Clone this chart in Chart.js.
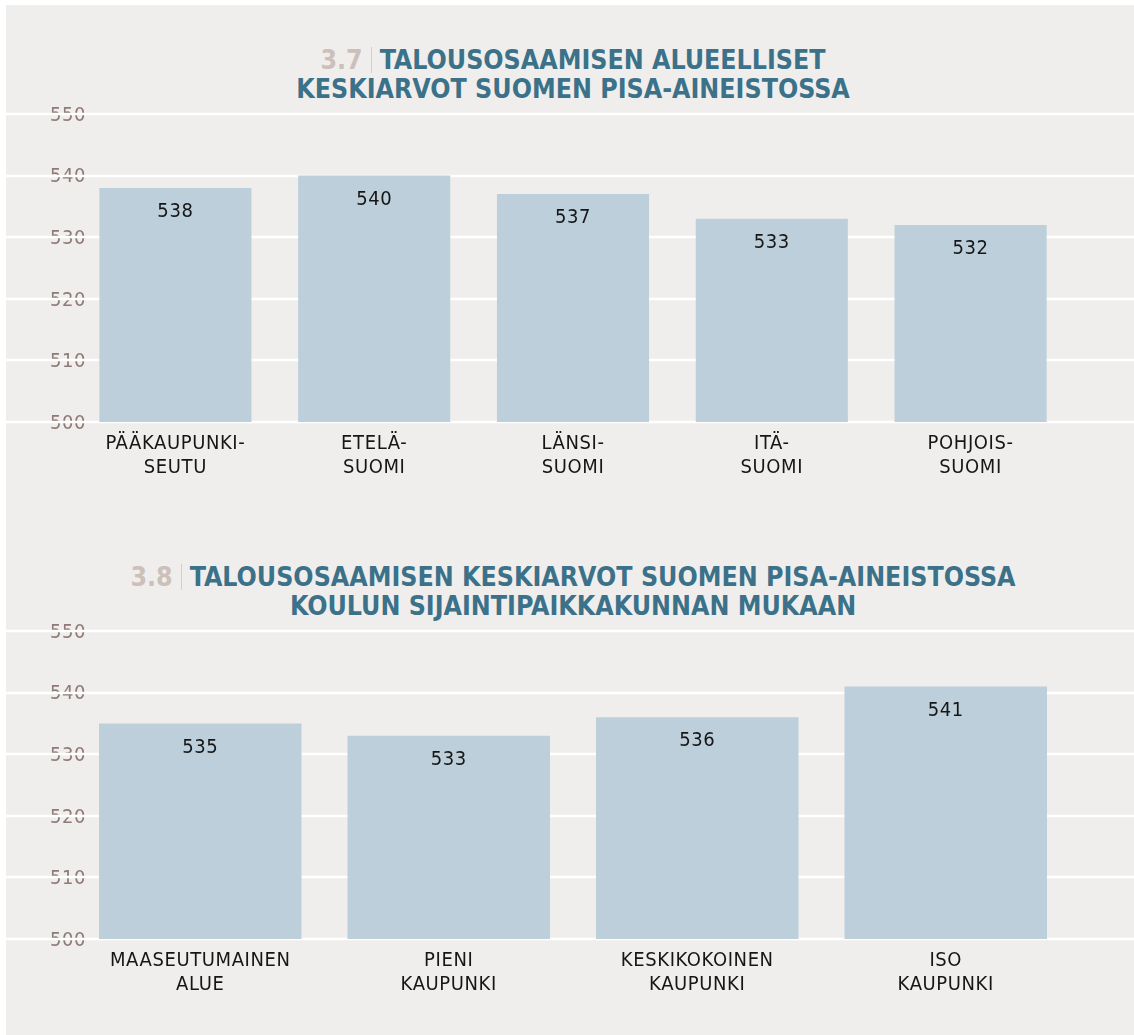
<!DOCTYPE html>
<html>
<head>
<meta charset="utf-8">
<script src="https://cdn.jsdelivr.net/npm/chart.js@4"></script>
<style>
  body { margin: 0; background: #fff; }
  #panel { position: absolute; left: 6px; top: 5px; width: 1128px; height: 1030px; background: #f0eeec; }
  canvas { position: absolute; left: 0; }
  #c1 { top: 0; }
  #c2 { top: 517px; }
  .title { position: absolute; left: 76px; width: 994px; text-align: center; font-family: "Liberation Sans Narrow", "DejaVu Sans Condensed", sans-serif; font-weight: bold; font-size: 26.5px; line-height: 29px; color: #3b7189; }
  .title .num { color: #cdbfb9; }
  .title .sep { display: inline-block; width: 1px; height: 26px; background: #d8ccc8; margin: 0 8px 0 8px; vertical-align: -4px; }
</style>
</head>
<body>
<div id="panel"></div>
<div class="title" style="top: 45px;"><span class="num">3.7</span><span class="sep"></span>TALOUSOSAAMISEN ALUEELLISET<br>KESKIARVOT SUOMEN PISA-AINEISTOSSA</div>
<div class="title" style="top: 562px;"><span class="num">3.8</span><span class="sep"></span>TALOUSOSAAMISEN KESKIARVOT SUOMEN PISA-AINEISTOSSA<br>KOULUN SIJAINTIPAIKKAKUNNAN MUKAAN</div>
<canvas id="c1" width="1134" height="502"></canvas>
<canvas id="c2" width="1134" height="502"></canvas>
<script>
// 3.7 alueittain
const regions = [['PÄÄKAUPUNKI-', 'SEUTU'], ['ETELÄ-', 'SUOMI'], ['LÄNSI-', 'SUOMI'], ['ITÄ-', 'SUOMI'], ['POHJOIS-', 'SUOMI']];
const regionMeans = [538, 540, 537, 533, 532];

// 3.8 koulun sijaintipaikkakunta
const places = [['MAASEUTUMAINEN', 'ALUE'], ['PIENI', 'KAUPUNKI'], ['KESKIKOKOINEN', 'KAUPUNKI'], ['ISO', 'KAUPUNKI']];
const placeMeans = [535, 533, 536, 541];

const yTicks = [500, 510, 520, 530, 540, 550];

const narrow = '"Liberation Sans Narrow", "DejaVu Sans Condensed", sans-serif';

// white grid lines across the whole panel, not only the chart area
const panelGrid = {
  id: 'panelGrid',
  beforeDraw: (chart) => {
    chart.ctx.letterSpacing = '0.6px';
  },
  beforeDatasetsDraw: (chart) => {
    const ctx = chart.ctx;
    const y = chart.scales.y;
    ctx.save();
    ctx.strokeStyle = '#ffffff';
    ctx.lineWidth = 2.5;
    yTicks.forEach((v) => {
      const py = Math.round(y.getPixelForValue(v));
      ctx.beginPath();
      ctx.moveTo(6, py);
      ctx.lineTo(chart.width, py);
      ctx.stroke();
    });
    ctx.restore();
  },
  afterDatasetsDraw: (chart) => {
    const ctx = chart.ctx;
    const ds = chart.data.datasets[0];
    ctx.save();
    ctx.fillStyle = '#161616';
    ctx.font = '500 20px ' + narrow;
    ctx.textAlign = 'center';
    ctx.textBaseline = 'middle';
    chart.getDatasetMeta(0).data.forEach((bar, i) => {
      ctx.fillText(ds.data[i], bar.x, bar.y + 24);
    });
    ctx.restore();
  }
};

const makeChart = (id, labels, values, barPct) => new Chart(document.getElementById(id), {
  type: 'bar',
  data: {
    labels: labels,
    datasets: [{
      data: values,
      backgroundColor: '#bccfdb',
      categoryPercentage: 1,
      barPercentage: barPct,
    }]
  },
  options: {
    responsive: false,
    animation: false,
    layout: { padding: { top: 114, right: 64, left: 0, bottom: 0 } },
    plugins: {
      legend: { display: false },
      tooltip: { enabled: false }
    },
    scales: {
      x: {
        grid: { display: false, drawTicks: false },
        border: { display: false },
        ticks: { color: '#161616', font: { family: narrow, size: 20, lineHeight: 1.2 }, padding: 10, maxRotation: 0, autoSkip: false },
        afterFit: (scale) => { scale.height = 80; }
      },
      y: {
        min: 500,
        max: 550,
        grid: { display: false, drawTicks: false },
        border: { display: false },
        ticks: { stepSize: 10, mirror: true, labelOffset: 1.5, color: '#8e7a76', font: { family: narrow, size: 20 }, padding: -26 },
        afterFit: (scale) => { scale.width = 76; }
      }
    }
  },
  plugins: [panelGrid]
});

makeChart('c1', regions, regionMeans, 0.765);
makeChart('c2', places, placeMeans, 0.815);
</script>
</body>
</html>
